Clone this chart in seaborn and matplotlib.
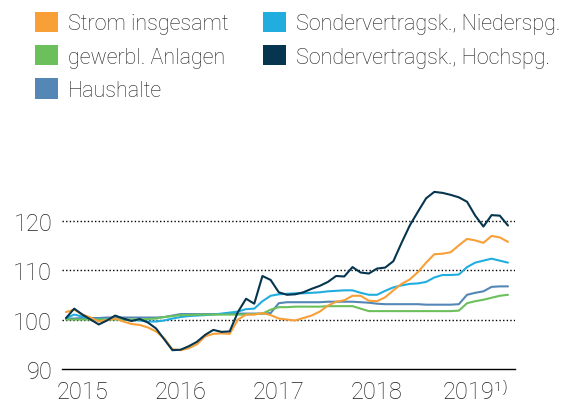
import numpy as np
import pandas as pd
import matplotlib
matplotlib.use("Agg")
import matplotlib.pyplot as plt
import seaborn as sns
from matplotlib.patches import Patch

# monthly index values (index = 100)
strom = [101.5, 102.0, 101.0, 100.4, 99.6, 99.9, 100.2, 99.6, 99.1, 98.9,
         98.4, 97.6, 96.2, 94.0, 93.8, 94.2, 95.0, 96.6, 97.1, 97.2,
         97.1, 100.0, 101.0, 101.0, 101.3, 100.9, 100.2, 100.0, 99.8, 100.3,
         100.8, 101.6, 102.8, 103.6, 103.9, 104.8, 104.8, 103.8, 103.7, 104.5,
         105.9, 107.2, 108.1, 109.6, 111.5, 113.2, 113.3, 113.6, 115.0, 116.3,
         116.0, 115.5, 116.9, 116.6, 115.7]
gewerbl = [100.0, 100.0, 100.0, 100.0, 100.0, 100.0, 100.0, 100.0, 100.0, 100.0,
           100.1, 100.2, 100.5, 100.7, 100.9, 100.9, 101.0, 101.0, 101.0, 101.0,
           101.0, 101.0, 101.0, 101.1, 101.2, 102.0, 102.5, 102.5, 102.6, 102.6,
           102.6, 102.6, 102.7, 102.7, 102.7, 102.7, 102.2, 101.7, 101.7, 101.7,
           101.7, 101.7, 101.7, 101.7, 101.7, 101.7, 101.7, 101.7, 101.8, 103.3,
           103.7, 104.0, 104.4, 104.8, 105.0]
haushalte = [100.2, 100.2, 100.3, 100.3, 100.3, 100.4, 100.4, 100.4, 100.4, 100.4,
             100.4, 100.4, 100.5, 100.8, 101.1, 101.1, 101.1, 101.1, 101.1, 101.1,
             101.2, 101.2, 101.2, 101.2, 101.2, 101.3, 103.3, 103.5, 103.5, 103.5,
             103.5, 103.5, 103.6, 103.6, 103.6, 103.6, 103.5, 103.4, 103.2, 103.1,
             103.1, 103.1, 103.1, 103.1, 103.0, 103.0, 103.0, 103.0, 103.1, 105.0,
             105.4, 105.7, 106.6, 106.7, 106.7]
niederspg = [100.3, 101.0, 100.6, 100.2, 100.0, 100.1, 100.1, 100.0, 99.9, 99.8,
             99.6, 99.6, 99.8, 100.2, 100.5, 100.7, 100.8, 100.9, 101.0, 101.2,
             101.4, 101.6, 102.1, 102.2, 103.7, 104.8, 105.1, 105.2, 105.3, 105.3,
             105.4, 105.5, 105.7, 105.8, 105.9, 105.9, 105.4, 105.0, 105.0, 105.8,
             106.5, 106.9, 107.2, 107.3, 107.6, 108.5, 109.0, 109.0, 109.1, 110.6,
             111.5, 111.9, 112.3, 111.9, 111.5]
hochspg = [100.3, 102.2, 101.0, 100.0, 99.0, 99.8, 100.8, 100.2, 99.7, 100.1,
           99.4, 98.2, 96.0, 93.8, 93.9, 94.6, 95.5, 96.9, 97.9, 97.5,
           97.6, 101.5, 104.2, 103.2, 108.8, 108.0, 105.5, 105.0, 105.1, 105.5,
           106.2, 106.8, 107.6, 108.8, 108.7, 110.6, 109.5, 109.3, 110.3, 110.5,
           111.8, 115.5, 119.0, 121.8, 124.5, 125.8, 125.6, 125.2, 124.7, 123.8,
           121.0, 118.8, 121.1, 121.0, 119.0]

series_names = ["Strom insgesamt", "gewerbl. Anlagen", "Haushalte",
                "Sondervertragsk., Niederspg.", "Sondervertragsk., Hochspg."]
colors = ["#F99F38", "#6CC05C", "#5487B5", "#21AEDE", "#06354F"]
year_labels = ["2015", "2016", "2017", "2018", "2019"]
year_ticks = [2, 14, 26, 38, 50]
y_ticks = [90, 100, 110, 120]

months = np.arange(len(strom))
df = pd.DataFrame({"month": months,
                   series_names[0]: strom,
                   series_names[1]: gewerbl,
                   series_names[2]: haushalte,
                   series_names[3]: niederspg,
                   series_names[4]: hochspg})
long = df.melt(id_vars="month", var_name="serie", value_name="index")
palette = dict(zip(series_names, colors))

sns.set_theme(style="white")
plt.rcParams['font.family'] = ['Roboto', 'DejaVu Sans']

fig = plt.figure(figsize=(5.65, 4.06), dpi=100)
ax = fig.add_axes([62 / 565, 1 - 370 / 406, 453 / 565, 188 / 406])

draw_order = [series_names[i] for i in (2, 3, 1, 0, 4)]
sns.lineplot(data=long, x="month", y="index", hue="serie", palette=palette,
             hue_order=draw_order, linewidth=1.5, legend=False, ax=ax)

for y in y_ticks[1:]:
    ax.axhline(y, color="black", linestyle=(0, (1, 1.6)), linewidth=1.0, zorder=0)

ax.set_xlim(-0.49, 54.86)
ax.set_ylim(90, 128)
ax.set_xticks(year_ticks)
ax.set_xticklabels(year_labels[:-1] + [year_labels[-1] + "¹⁾"])
ax.set_yticks(y_ticks)
ax.set_xlabel("")
ax.set_ylabel("")
ax.tick_params(axis="both", length=0, labelsize=17, colors="#231F20")
ax.tick_params(axis="x", pad=8)
ax.tick_params(axis="y", pad=7)
for lbl in ax.get_xticklabels() + ax.get_yticklabels():
    lbl.set_fontweight("light")
ax.spines[['top', 'right', 'left']].set_visible(False)
ax.spines['bottom'].set_color("black")
ax.spines['bottom'].set_linewidth(1.0)
ax.set_facecolor("white")

handles = [Patch(facecolor=c, edgecolor="none", label=n)
           for n, c in zip(series_names, colors)]
fig.legend(handles=handles, loc="upper left", bbox_to_anchor=(35 / 565, 1 - 13 / 406),
           bbox_transform=fig.transFigure, ncol=2, frameon=False,
           prop={"size": 15.5, "weight": "light"}, handlelength=1.07, handleheight=1.07,
           handletextpad=0.47, columnspacing=1.6, labelspacing=0.5,
           borderpad=0, borderaxespad=0, labelcolor="#231F20")

fig.savefig("out.png", dpi=100, facecolor="white")
